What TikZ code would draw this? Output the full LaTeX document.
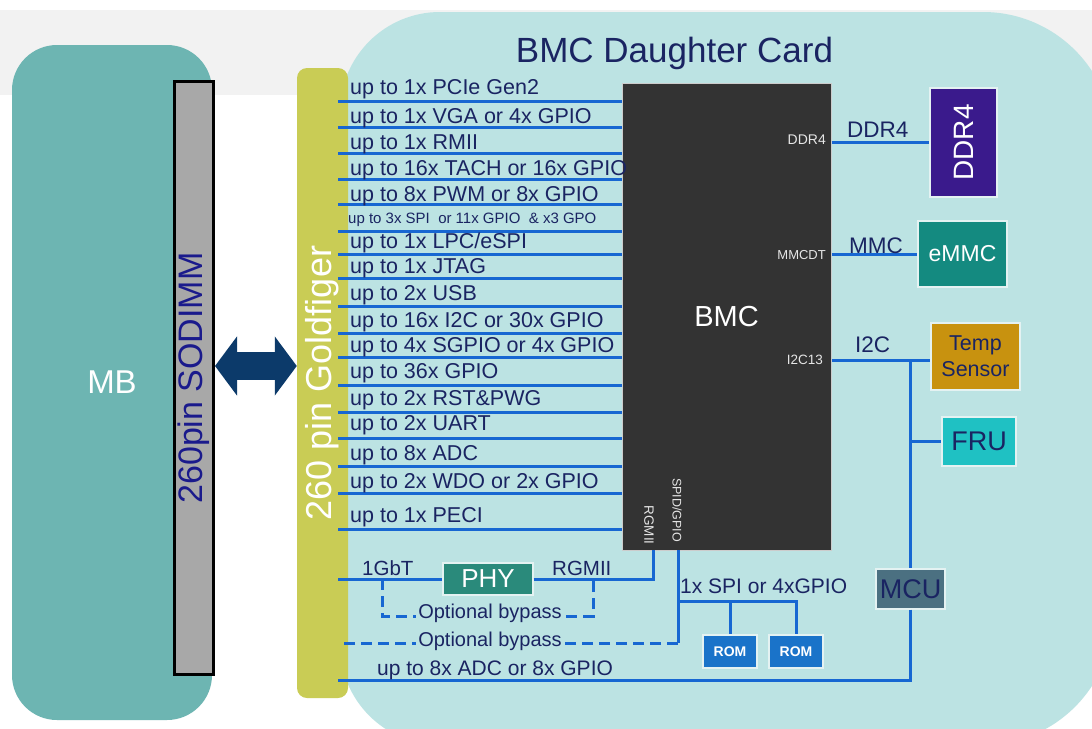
\documentclass[tikz,border=0pt]{standalone}
\usepackage{fontspec}
\setmainfont{Liberation Sans}
\usepackage{graphicx}
\usetikzlibrary{arrows.meta}
\definecolor{card}{HTML}{BCE3E3}
\definecolor{mbc}{HTML}{6DB5B2}
\definecolor{gold}{HTML}{C9CC55}
\definecolor{sodgray}{HTML}{A8A8A8}
\definecolor{sodtext}{HTML}{1A1A8C}
\definecolor{arrowc}{HTML}{0C3A6A}
\definecolor{sigc}{HTML}{1767D2}
\definecolor{chipc}{HTML}{333333}
\definecolor{navy}{HTML}{1A2462}
\definecolor{ddrc}{HTML}{3A1A8C}
\definecolor{emmcc}{HTML}{148A80}
\definecolor{tempc}{HTML}{C8920F}
\definecolor{fruc}{HTML}{1FC1C3}
\definecolor{mcuc}{HTML}{4B7081}
\definecolor{phyc}{HTML}{2A8A7B}
\definecolor{romc}{HTML}{1A73C9}
\definecolor{pinc}{HTML}{E6E6E6}
\definecolor{band}{HTML}{F2F2F2}
\definecolor{edgec}{HTML}{E4F2F2}
\newcommand\fsz[1]{\fontsize{#1}{#1}\selectfont}
\newcommand\sigline[4]{%
  \coordinate (#1) at (338,#2);
  \draw[sig] (#1) -- (#1 -| bmc.west);
  \node[siglbl] (#1t) at (350,#3) {#4};}
\begin{document}
\begin{tikzpicture}[x=1pt,y=-1pt,
  box/.style={draw=edgec, line width=1.2pt, inner sep=0pt, align=center},
  sig/.style={draw=sigc, line width=3pt},
  dsig/.style={draw=sigc, line width=3pt, dash pattern=on 11pt off 6pt},
  siglbl/.style={anchor=base west, inner sep=0pt, text=navy, font=\fsz{21.5}},
  lbl/.style={anchor=base west, inner sep=0pt, text=navy},
  pinlbl/.style={inner sep=0pt, text=pinc},
  bypass/.style={fill=card, inner sep=2pt, text=navy, font=\fsz{20}}]
\useasboundingbox (0,0) rectangle (1092,728);
\fill[white] (0,0) rectangle (1092,728);
\fill[band] (0,10) rectangle (1092,95);
% daughter card
\fill[card] (700,745) [rounded corners=100pt] -- (340,745) -- (340,12) -- (700,12)
  [rounded corners=130pt] -- (1113,12) -- (1113,745) -- cycle;
% main board, sodimm, goldfinger
\node[draw=none, fill=mbc, rounded corners=45pt, minimum width=200pt, minimum height=675pt,
  inner sep=0pt, text=white, font=\fsz{33}] (mb) at (112,382.5) {MB};
\node[draw=black, line width=3pt, fill=sodgray, minimum width=39pt, minimum height=593pt,
  inner sep=0pt, text=sodtext, font=\fsz{34}] (sodimm) at (194,378) {\rotatebox{90}{260pin SODIMM}};
\node[draw=none, fill=gold, rounded corners=10pt, minimum width=51pt, minimum height=630pt,
  inner sep=0pt, text=white, font=\fsz{36}] (gf) at (322.5,383) {\rotatebox{90}{260 pin Goldfiger}};
\coordinate (arrL) at ([yshift=12pt]sodimm.east);
\draw[draw=arrowc, line width=28pt, {Triangle[width=58pt,length=22pt]}-{Triangle[width=58pt,length=22pt]}]
  (arrL) -- (arrL -| gf.west);
% title
\node[anchor=base, inner sep=0pt, text=navy, font=\fsz{35}] (title) at (674.5,62) {BMC Daughter Card};
% BMC chip
\node[draw=white!80!black, line width=1pt, fill=chipc, minimum width=209pt, minimum height=467pt,
  inner sep=0pt, text=white, font=\fsz{29}] (bmc) at (726.5,316.5) {BMC};
% peripheral boxes
\node[box, fill=ddrc, minimum width=67pt, minimum height=109pt, text=white, font=\fsz{28}] (ddr4) at (963.5,142.5) {\rotatebox{90}{DDR4}};
\node[box, fill=emmcc, minimum width=89pt, minimum height=66pt, text=white, font=\fsz{23}] (emmc) at (962.5,254) {eMMC};
\node[box, fill=tempc, minimum width=89pt, minimum height=67pt, text=navy, font=\fontsize{21.5}{26}\selectfont] (temp) at (975.5,356.5) {Temp\\Sensor};
\node[box, fill=fruc, minimum width=74pt, minimum height=49pt, text=navy, font=\fsz{27}] (fru) at (979,441.5) {FRU};
\node[box, fill=mcuc, minimum width=69pt, minimum height=40pt, text=navy, font=\fsz{27}] (mcu) at (910.5,589) {MCU};
\node[box, fill=phyc, minimum width=90pt, minimum height=32pt, text=white, font=\fsz{26}] (phy) at (488,579) {PHY};
\node[box, fill=romc, minimum width=54pt, minimum height=33pt, text=white, font=\bfseries\fsz{14}] (rom1) at (730,651.5) {ROM};
\node[box, fill=romc, minimum width=54pt, minimum height=33pt, text=white, font=\bfseries\fsz{14}] (rom2) at (796,651.5) {ROM};
% pin labels on chip
\node[pinlbl, anchor=east, font=\fsz{14}] (pddr) at (826,140) {DDR4};
\node[pinlbl, anchor=east, font=\fsz{13}] (pmmc) at (826,255) {MMCDT};
\node[pinlbl, anchor=east, font=\fsz{13.5}] (pi2c) at (823,360) {I2C13};
\node[pinlbl, font=\fsz{13.5}] (prgm) at (649,525) {\rotatebox{-90}{RGMII}};
\node[pinlbl, font=\fsz{12.5}] (pspi) at (677,510) {\rotatebox{-90}{SPID/GPIO}};
% signal lines to goldfinger
\sigline{s1}{101}{94}{up to 1x PCIe Gen2}
\sigline{s2}{127}{123}{up to 1x VGA or 4x GPIO}
\sigline{s3}{153}{149}{up to 1x RMII}
\sigline{s4}{179}{175}{up to 16x TACH or 16x GPIO}
\sigline{s5}{204}{201}{up to 8x PWM or 8x GPIO}
\coordinate (s6) at (338,231);
\draw[sig] (s6) -- (s6 -| bmc.west);
\node[siglbl, font=\fsz{15}] (s6t) at (348,223) {up to 3x SPI\ \ or 11x GPIO\ \ \& x3 GPO};
\sigline{s7}{254}{248}{up to 1x LPC/eSPI}
\sigline{s8}{278}{273}{up to 1x JTAG}
\sigline{s9}{306}{300}{up to 2x USB}
\sigline{s10}{333}{327}{up to 16x I2C or 30x GPIO}
\sigline{s11}{357}{352}{up to 4x SGPIO or 4x GPIO}
\sigline{s12}{385}{378}{up to 36x GPIO}
\sigline{s13}{412}{405}{up to 2x RST\&PWG}
\sigline{s14}{438}{430}{up to 2x UART}
\sigline{s15}{466}{460}{up to 8x ADC}
\sigline{s16}{493}{488}{up to 2x WDO or 2x GPIO}
\sigline{s17}{529}{522}{up to 1x PECI}
% right side connections
\draw[sig] (ddr4.west -| bmc.east) -- (ddr4.west);
\draw[sig] (emmc.west -| bmc.east) -- (emmc.west);
\coordinate (i2cy) at (0,360);
\draw[sig] (bmc.east |- i2cy) -- (temp.west |- i2cy);
\draw[sig] (mcu.north |- i2cy) -- (mcu.north);
\draw[sig] (mcu.north |- fru.west) -- (fru.west);
\coordinate (botline) at (338,680);
\draw[sig] (mcu.south) -- (mcu.south |- botline) -- (botline);
\node[lbl, font=\fsz{22.5}] (lddr) at (847,137) {DDR4};
\node[lbl, font=\fsz{22.5}] (lmmc) at (849,253) {MMC};
\node[lbl, font=\fsz{22.5}] (li2c) at (855,352) {I2C};
% PHY and bypass
\coordinate (gbt) at (338,579);
\coordinate (rgpin) at (653,550);
\draw[sig] (gbt) -- (phy.west);
\draw[sig] (phy.east) -- (phy.east -| rgpin) -- (rgpin);
\coordinate (bpL) at (382,579);
\coordinate (bpR) at (593,579);
\coordinate (bp1y) at (0,616);
\draw[dsig] (bpL) -- (bpL |- bp1y) -- (bpR |- bp1y) -- (bpR);
\node[bypass] (bt1) at (490,613) {Optional bypass};
% SPI and ROMs
\coordinate (spipin) at (678,550);
\coordinate (bp2) at (338,643);
\draw[sig] (spipin) -- (spipin |- bp2);
\draw[dsig] (spipin |- bp2) -- (bp2);
\node[bypass] (bt2) at (490,641) {Optional bypass};
\coordinate (romrail) at (0,601);
\draw[sig] (spipin |- romrail) -- (rom2.north |- romrail) -- (rom2.north);
\draw[sig] (rom1.north |- romrail) -- (rom1.north);
% bottom labels
\node[lbl, font=\fsz{20.5}] (lgbt) at (362,575) {1GbT};
\node[lbl, font=\fsz{20.5}] (lrg) at (552,575) {RGMII};
\node[lbl, font=\fsz{21}] (lspi) at (680,593) {1x SPI or 4xGPIO};
\node[lbl, font=\fsz{21}] (ladc) at (377,675) {up to 8x ADC or 8x GPIO};
\end{tikzpicture}
\end{document}
